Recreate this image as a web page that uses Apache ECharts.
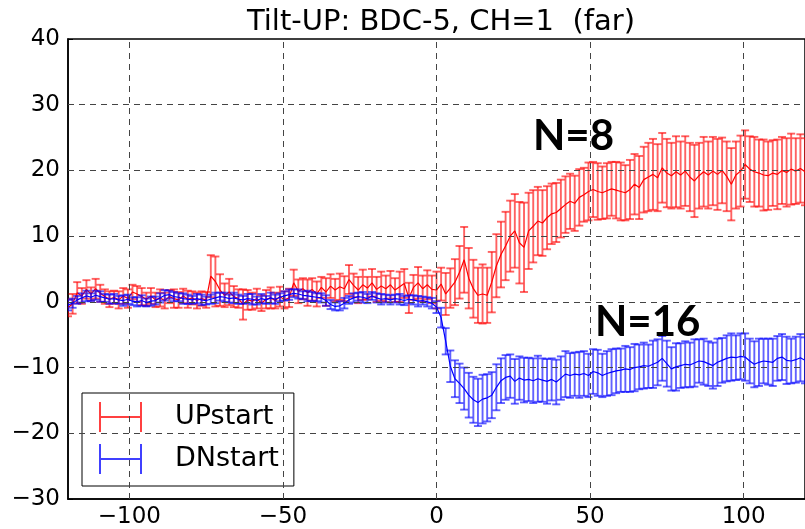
<!DOCTYPE html>
<html>
<head>
<meta charset="utf-8">
<script src="https://cdn.jsdelivr.net/npm/echarts@6/dist/echarts.min.js"></script>
<style>html,body{margin:0;padding:0;background:#fff}#c{width:805px;height:529px}</style>
</head>
<body>
<div id="c"></div>
<script>
// sampling grid of the time axis
const tStart = -120;
const tStep = 1.5;

const xTicks = [-100, -50, 0, 50, 100];
const yTicks = [-30, -20, -10, 0, 10, 20, 30, 40];

const upMean = [
  -0.9, -0.3, 1.4, 0.9, 1.9, 1.2, 2.0, 1.3, 0.8, 0.4,
  0.7, 0.3, 0.9, 0.5, 1.5, 1.2, 0.8, 0.4, 0.9, 0.3,
  0.6, 0.2, 0.8, 0.5, 0.3, 0.9, 0.4, 0.6, 0.2, 0.5,
  0.3, 3.9, 3.1, 1.8, 1.0, 1.5, 0.8, 0.5, -0.4, 0.3,
  0.1, 0.5, -0.2, 0.4, 0.6, 0.2, 0.8, 0.3, 0.6, 2.9,
  1.6, 2.0, 1.4, 1.9, 1.2, 2.2, 1.5, 2.4, 1.8, 2.3,
  2.0, 3.4, 2.5, 1.8, 2.6, 2.1, 2.9, 1.9, 2.4, 2.0,
  2.6, 1.8, 2.3, 2.8, 0.6, 2.2, 2.9, 2.0, 2.6, 1.9,
  1.8, 2.7, 1.2, 2.1, 3.0, 4.5, 6.4, 3.6, 2.0, 1.0,
  1.2, 1.0, 3.0, 5.5, 7.2, 8.5, 10.0, 10.8, 9.0, 8.3,
  10.8, 11.5, 12.3, 12.0, 12.8, 13.4, 13.6, 14.2, 14.8, 15.3,
  15.0, 15.9, 16.3, 16.8, 17.1, 16.8, 16.6, 16.9, 17.2, 17.0,
  16.8, 16.6, 17.1, 17.9, 17.4, 18.6, 19.0, 19.4, 18.9, 20.4,
  19.6, 19.2, 19.8, 19.3, 19.9, 19.0, 18.4, 19.2, 19.8, 19.3,
  19.9, 19.4, 20.0, 19.1, 17.9, 19.3, 19.9, 20.9, 20.2, 19.8,
  19.6, 19.3, 19.2, 19.6, 19.4, 20.0, 19.7, 20.2, 19.9, 20.3, 19.8
];
const upErr = [
  1.3, 1.5, 1.6, 1.2, 1.4, 1.0, 1.5, 1.3, 1.1, 1.2,
  1.0, 1.3, 1.2, 1.4, 1.1, 1.2, 1.3, 1.0, 1.2, 1.1,
  1.3, 1.2, 1.0, 1.4, 1.2, 1.1, 1.3, 1.0, 1.2, 1.1,
  1.2, 3.2, 3.8, 2.4, 1.8, 2.0, 1.6, 1.4, 2.3, 1.5,
  1.3, 1.5, 1.2, 1.4, 1.6, 1.2, 1.5, 1.3, 1.4, 2.0,
  1.8, 1.6, 2.0, 1.7, 1.9, 1.6, 2.1, 1.8, 1.7, 2.0,
  1.9, 2.2, 1.8, 2.0, 2.3, 1.7, 2.1, 1.9, 2.2, 2.0,
  2.1, 1.8, 2.3, 2.2, 2.3, 1.9, 2.4, 2.0, 2.2, 2.1,
  2.8, 2.5, 3.2, 3.0, 3.5, 4.0, 5.0, 4.6, 4.4, 4.2,
  4.5, 4.2, 4.6, 4.8, 5.0, 5.2, 5.4, 5.6, 6.2, 6.8,
  5.8, 5.5, 5.2, 5.0, 4.8, 4.6, 4.5, 4.4, 4.3, 4.2,
  4.2, 4.3, 4.1, 4.4, 4.2, 4.3, 4.0, 4.2, 4.1, 4.3,
  4.4, 4.2, 4.5, 4.6, 4.8, 5.0, 5.2, 5.4, 5.1, 5.3,
  5.2, 5.0, 5.4, 5.1, 5.3, 5.2, 5.5, 5.0, 5.3, 5.1,
  5.2, 5.4, 5.0, 5.3, 5.5, 5.1, 5.4, 5.2, 5.0, 5.3,
  5.1, 5.4, 5.2, 5.0, 5.3, 5.1, 5.2, 5.4, 5.0, 5.2, 5.1
];
const dnMean = [
  -0.5, -0.2, 0.3, 0.6, 0.9, 0.7, 1.0, 0.8, 0.6, 0.4,
  0.5, 0.3, 0.2, 0.4, 0.1, 0.0, 0.2, -0.1, 0.1, 0.2,
  0.6, 1.0, 1.1, 0.8, 0.7, 0.5, 0.4, 0.3, 0.5, 0.3,
  0.2, 0.4, 0.6, 0.8, 0.7, 0.5, 0.6, 0.4, 0.3, 0.5,
  0.4, 0.2, 0.5, 0.3, 0.6, 0.4, 0.7, 0.9, 1.1, 1.3,
  1.2, 1.0, 0.9, 0.8, 0.7, 0.6, 0.2, -0.4, -0.7, -0.6,
  -0.2, 0.3, 0.6, 0.8, 0.7, 0.5, 0.9, 0.6, 0.4, 0.5,
  0.3, 0.5, 0.4, 0.2, 0.4, 0.3, 0.1, 0.2, 0.0, -0.2,
  -0.8, -2.4, -6.0, -9.8, -11.7, -12.4, -13.2, -14.2, -14.9, -15.3,
  -14.8, -14.6, -14.2, -13.0, -12.0, -11.5, -11.3, -12.1, -11.6, -11.9,
  -11.8, -12.0, -11.7, -11.9, -12.1, -11.8, -12.2, -11.6, -11.0, -11.2,
  -11.0, -11.1, -10.9, -11.2, -10.6, -10.8, -11.2, -10.9, -10.7, -10.5,
  -10.4, -10.2, -10.3, -10.0, -9.9, -9.7, -9.8, -9.5, -9.2, -8.6,
  -9.4, -10.2, -9.9, -9.7, -9.5, -9.6, -9.3, -9.0, -9.1, -9.4,
  -9.7, -9.2, -8.9, -8.6, -8.4, -8.5, -8.3, -8.4, -9.0, -9.5,
  -9.2, -9.0, -9.1, -9.2, -8.6, -8.4, -8.9, -9.0, -8.8, -8.5, -8.9
];
const dnErr = [
  0.8, 0.7, 0.6, 0.7, 0.8, 0.6, 0.7, 0.8, 0.6, 0.7,
  0.7, 0.6, 0.8, 0.7, 0.6, 0.7, 0.8, 0.6, 0.7, 0.6,
  0.7, 0.8, 0.6, 0.7, 0.6, 0.8, 0.7, 0.6, 0.7, 0.8,
  0.6, 0.7, 0.8, 0.6, 0.7, 0.6, 0.8, 0.7, 0.6, 0.7,
  0.8, 0.6, 0.7, 0.6, 0.8, 0.7, 0.6, 0.7, 0.8, 0.6,
  0.7, 0.6, 0.8, 0.7, 0.6, 0.7, 0.8, 0.7, 0.6, 0.7,
  0.8, 0.6, 0.7, 0.6, 0.8, 0.7, 0.6, 0.7, 0.8, 0.6,
  0.7, 0.6, 0.8, 0.7, 0.6, 0.7, 0.8, 0.6, 0.7, 0.8,
  0.9, 1.5, 2.0, 2.4, 2.8, 3.0, 3.2, 3.4, 3.5, 3.6,
  3.7, 3.6, 3.5, 3.5, 3.4, 3.4, 3.3, 3.4, 3.3, 3.4,
  3.3, 3.4, 3.5, 3.3, 3.4, 3.2, 3.4, 3.3, 3.5, 3.4,
  3.3, 3.5, 3.4, 3.3, 3.4, 3.5, 3.3, 3.4, 3.5, 3.4,
  3.3, 3.5, 3.4, 3.6, 3.4, 3.5, 3.3, 3.6, 3.5, 3.4,
  3.5, 3.3, 3.6, 3.4, 3.5, 3.4, 3.6, 3.3, 3.5, 3.4,
  3.5, 3.6, 3.4, 3.5, 3.6, 3.4, 3.5, 3.6, 3.4, 3.5,
  3.6, 3.4, 3.5, 3.6, 3.4, 3.5, 3.6, 3.4, 3.5, 3.6, 3.5
];

const seriesNames = ['UPstart', 'DNstart'];
const annotations = ['N=8', 'N=16'];

function pts(mean, err) {
  return mean.map((m, i) => [tStart + tStep * i, m, err[i]]);
}

function errRender(color) {
  return function (params, api) {
    const x = api.value(0), y = api.value(1), e = api.value(2);
    const top = api.coord([x, y + e]);
    const bot = api.coord([x, y - e]);
    const cw = 4;
    const st = { stroke: color, lineWidth: 1.9 };
    return {
      type: 'group',
      children: [
        { type: 'line', shape: { x1: top[0], y1: top[1], x2: bot[0], y2: bot[1] }, style: st },
        { type: 'line', shape: { x1: top[0] - cw, y1: top[1], x2: top[0] + cw, y2: top[1] }, style: st },
        { type: 'line', shape: { x1: bot[0] - cw, y1: bot[1], x2: bot[0] + cw, y2: bot[1] }, style: st }
      ]
    };
  };
}

const upData = pts(upMean, upErr);
const dnData = pts(dnMean, dnErr);

const F = 'DejaVu Sans';
const gridStyle = { color: '#444', width: 1, type: [6, 5] };
const hIcon = 'path://M0,0h2v30h-2z M0,14h43v2h-43z M41,0h2v30h-2z';
const minusFmt = v => (v < 0 ? '\u2212' + Math.abs(v) : String(v));

const chart = echarts.init(document.getElementById('c'), null, { renderer: 'canvas' });
chart.setOption({
  animation: false,
  backgroundColor: '#fff',
  title: {
    text: 'Tilt-UP: BDC-5, CH=1  (far)',
    left: 436, textAlign: 'center', top: 3,
    textStyle: { fontFamily: F, fontSize: 29, fontWeight: 'normal', color: '#000' }
  },
  grid: { left: 68, top: 39, width: 744, height: 461, show: true, borderColor: '#000', borderWidth: 1.5, backgroundColor: 'transparent' },
  legend: {
    left: 82, top: 393, orient: 'vertical',
    itemWidth: 43, itemHeight: 30, itemGap: 12,
    padding: [9, 15, 12, 17],
    borderColor: '#000', borderWidth: 1, backgroundColor: '#fff', borderRadius: 0,
    textStyle: { fontFamily: F, fontSize: 27, color: '#000', padding: [0, 0, 0, 28] },
    data: [
      { name: seriesNames[0], icon: hIcon, itemStyle: { color: 'rgba(255,0,0,0.75)' } },
      { name: seriesNames[1], icon: hIcon, itemStyle: { color: 'rgba(0,0,255,0.75)' } }
    ]
  },
  xAxis: {
    type: 'value', min: -120, max: 120,
    axisLine: { onZero: false, lineStyle: { color: '#000', width: 1.5 } },
    axisTick: { inside: true, length: 5, customValues: xTicks, lineStyle: { color: '#000' } },
    axisLabel: { customValues: xTicks, fontFamily: F, fontSize: 23, color: '#000', margin: 7, formatter: minusFmt },
    splitLine: { show: false }
  },
  yAxis: {
    type: 'value', min: -30, max: 40, interval: 10,
    axisLine: { onZero: false, lineStyle: { color: '#000', width: 1.5 } },
    axisTick: { inside: true, length: 5, lineStyle: { color: '#000' } },
    axisLabel: { fontFamily: F, fontSize: 23, color: '#000', margin: 8, formatter: minusFmt },
    splitLine: { show: false }
  },
  series: [
    { name: seriesNames[0], type: 'custom', renderItem: errRender('rgba(255,0,0,0.62)'), data: upData, z: 2, clip: true, encode: { x: 0, y: 1 } },
    { name: seriesNames[0], type: 'line', data: upData.map(d => [d[0], d[1]]), showSymbol: false, symbol: 'none',
      lineStyle: { color: '#ff0000', width: 1.2 }, itemStyle: { color: '#ff0000' }, z: 3 },
    { name: seriesNames[1], type: 'custom', renderItem: errRender('rgba(0,0,255,0.62)'), data: dnData, z: 4, clip: true, encode: { x: 0, y: 1 } },
    { name: seriesNames[1], type: 'line', data: dnData.map(d => [d[0], d[1]]), showSymbol: false, symbol: 'none',
      lineStyle: { color: '#0000ff', width: 1.2 }, itemStyle: { color: '#0000ff' }, z: 5 },
    { type: 'line', data: [], z: 6, silent: true,
      markLine: { silent: true, symbol: 'none', label: { show: false }, lineStyle: gridStyle, animation: false,
        data: xTicks.map(v => ({ xAxis: v })).concat(yTicks.filter(v => v > -30 && v < 40).map(v => ({ yAxis: v }))) } }
  ],
  graphic: [
    { type: 'text', left: 533, top: 115, z: 100, style: { text: annotations[0], font: 'bold 42px Lato', fill: '#000' } },
    { type: 'text', left: 595, top: 301, z: 100, style: { text: annotations[1], font: 'bold 42px Lato', fill: '#000' } }
  ]
});
</script>
</body>
</html>
